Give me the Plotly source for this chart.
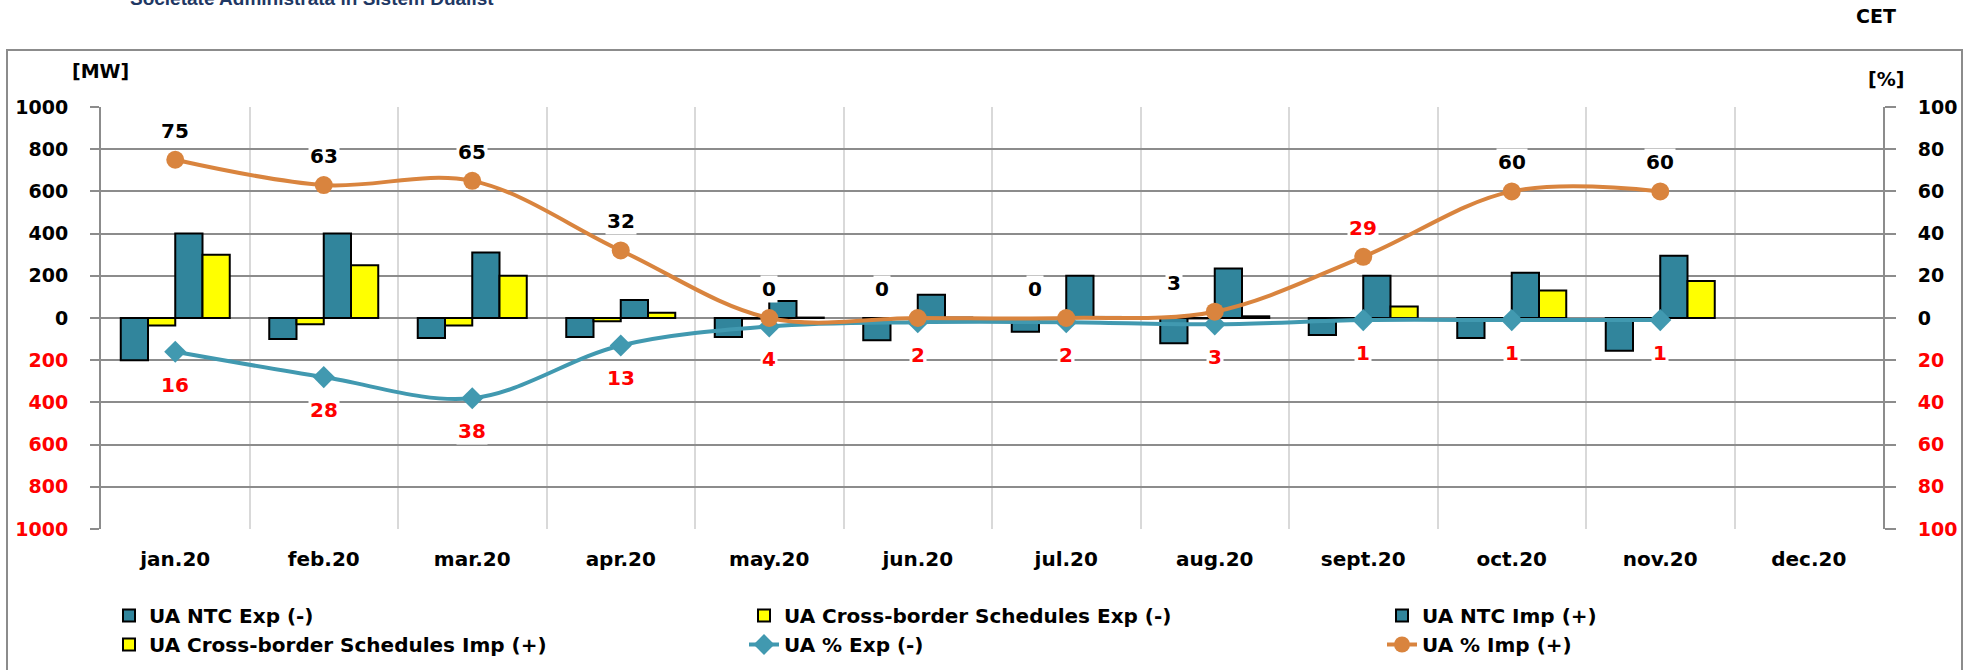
import plotly.graph_objects as go

# Monthly data, 2020
months = ["jan.20", "feb.20", "mar.20", "apr.20", "may.20", "jun.20",
          "jul.20", "aug.20", "sept.20", "oct.20", "nov.20", "dec.20"]

ntc_exp = [-200, -100, -95, -90, -90, -105, -65, -120, -80, -95, -155, None]
sched_exp = [-35, -30, -35, -15, -3, -2, -2, -2, -2, -2, -2, None]
ntc_imp = [400, 400, 310, 85, 80, 110, 200, 235, 200, 215, 295, None]
sched_imp = [300, 250, 200, 25, 2, 2, 5, 8, 55, 130, 175, None]

pct_exp = [16, 28, 38, 13, 4, 2, 2, 3, 1, 1, 1, None]
pct_imp = [75, 63, 65, 32, 0, 0, 0, 3, 29, 60, 60, None]
pct_imp_label_colors = ["black", "black", "black", "black", "black", "black",
                        "black", "black", "red", "black", "black", None]
# horizontal nudges (px) keeping the import labels clear of the bars
pct_imp_label_shift = [0, 0, 0, 0, 0, -36, -31, -41, 0, 0, 0, 0]

mw_ticks = [1000, 800, 600, 400, 200, 0, -200, -400, -600, -800, -1000]
pct_ticks = [100, 80, 60, 40, 20, 0, -20, -40, -60, -80, -100]

TEAL_BAR = "#31859C"
YELLOW = "#FFFF00"
TEAL_LINE = "#4199B0"
ORANGE = "#D9843E"
GRID = "#8C8C8C"
VGRID = "#D9D9D9"
FONT = "DejaVu Sans"

W, H = 1977, 670
L, R, T, B = 101, 94, 107, 141
PW, PH = W - L - R, H - T - B


def px_x(px):
    return (px - L) / PW


def px_y(py):
    return (H - B - py) / PH


def tick_text(v):
    s = str(abs(v))
    return s if v >= 0 else f"<span style='color:red'>{s}</span>"


fig = go.Figure()
bar_line = dict(color="black", width=2)
fig.add_bar(x=months, y=ntc_exp, name="UA NTC Exp (-)", legend="legend",
            legendgroup="a", marker=dict(color=TEAL_BAR, line=bar_line))
fig.add_bar(x=months, y=sched_exp, name="UA Cross-border Schedules Exp (-)",
            legend="legend2", legendgroup="b",
            marker=dict(color=YELLOW, line=bar_line))
fig.add_bar(x=months, y=ntc_imp, name="UA NTC Imp (+)", legend="legend3",
            legendgroup="c", marker=dict(color=TEAL_BAR, line=bar_line))
fig.add_bar(x=months, y=sched_imp, name="UA Cross-border Schedules Imp (+)",
            legend="legend", legendgroup="d",
            marker=dict(color=YELLOW, line=bar_line))

# Percentages on the secondary axis; export shares drawn downward
fig.add_scatter(x=months[:11], y=[-v for v in pct_exp[:11]], yaxis="y2",
                name="UA % Exp (-)", legend="legend2", legendgroup="e",
                mode="lines+markers",
                line=dict(color=TEAL_LINE, width=4, shape="spline", smoothing=1),
                marker=dict(symbol="diamond", size=17, color=TEAL_LINE))
fig.add_scatter(x=months[:11], y=pct_imp[:11], yaxis="y2",
                name="UA % Imp (+)", legend="legend3", legendgroup="f",
                mode="lines+markers",
                line=dict(color=ORANGE, width=4, shape="spline", smoothing=1),
                marker=dict(symbol="circle", size=18, color=ORANGE))

annotations = []
for m, v, c, dx in zip(months, pct_imp, pct_imp_label_colors,
                       pct_imp_label_shift):
    if v is None:
        continue
    annotations.append(dict(x=m, y=v, xref="x", yref="y2", yshift=29,
                            xshift=dx, text=f"<b>{v}</b>", showarrow=False,
                            bgcolor="white",
                            font=dict(family=FONT, size=20, color=c)))
for m, v in zip(months, pct_exp):
    if v is None:
        continue
    annotations.append(dict(x=m, y=-v, xref="x", yref="y2", yshift=-33,
                            text=f"<b>{v}</b>", showarrow=False,
                            bgcolor="white",
                            font=dict(family=FONT, size=20, color="red")))


def paper_text(text, x, y, size=19, family=FONT, color="black",
               xanchor="center", yanchor="middle"):
    return dict(text=text, x=px_x(x), y=px_y(y), xref="paper", yref="paper",
                xanchor=xanchor, yanchor=yanchor, showarrow=False,
                font=dict(family=family, size=size, color=color))


annotations += [
    paper_text("<b>[MW]</b>", 100, 71),
    paper_text("<b>[%]</b>", 1886, 79),
    paper_text("<b>CET</b>", 1876, 16),
    paper_text("<b>Societate Administrata in Sistem Dualist</b>", 312, 11,
               family="Liberation Sans", color="#1F3864", yanchor="bottom"),
]

legend_font = dict(family=FONT, size=20, color="black", weight="bold")


def legend_at(x):
    return dict(orientation="v", x=px_x(x), y=px_y(596),
                xanchor="left", yanchor="top", font=legend_font,
                bgcolor="rgba(0,0,0,0)", traceorder="normal",
                tracegroupgap=5)


fig.update_layout(
    width=W, height=H,
    margin=dict(l=L, r=R, t=T, b=B, pad=0, autoexpand=False),
    paper_bgcolor="white", plot_bgcolor="white",
    barmode="group", bargap=0.266, bargroupgap=0,
    font=dict(family=FONT, size=19, color="black"),
    showlegend=True,
    legend=legend_at(109),
    legend2=legend_at(744),
    legend3=legend_at(1382),
    xaxis=dict(type="category", categoryorder="array", categoryarray=months,
               range=[-0.5, 11.5], tickson="boundaries",
               showgrid=True, gridcolor=VGRID, gridwidth=2,
               ticks="", ticklabelstandoff=16, showline=False,
               tickfont=dict(family=FONT, size=20, color="black", weight="bold")),
    yaxis=dict(range=[-1000, 1000], tickvals=mw_ticks,
               ticktext=[tick_text(v) for v in mw_ticks],
               showgrid=True, gridcolor=GRID, gridwidth=2, zeroline=False,
               showline=True, linecolor=GRID, linewidth=2,
               ticks="outside", ticklen=9, tickwidth=2, tickcolor=GRID,
               ticklabelstandoff=18,
               tickfont=dict(family=FONT, size=19, color="black", weight="bold")),
    yaxis2=dict(range=[-100, 100], overlaying="y", side="right",
                tickvals=pct_ticks, ticktext=[tick_text(v) for v in pct_ticks],
                showgrid=False, zeroline=False,
                showline=True, linecolor=GRID, linewidth=2,
                ticks="outside", ticklen=11, tickwidth=2, tickcolor=GRID,
                ticklabelstandoff=18,
                tickfont=dict(family=FONT, size=19, color="black", weight="bold")),
    annotations=annotations,
    shapes=[dict(type="rect", xref="paper", yref="paper",
                 x0=px_x(7), x1=px_x(1962), y0=px_y(690), y1=px_y(50),
                 line=dict(color=GRID, width=2), fillcolor="rgba(0,0,0,0)",
                 layer="below")],
)

fig.write_html("out.html")
